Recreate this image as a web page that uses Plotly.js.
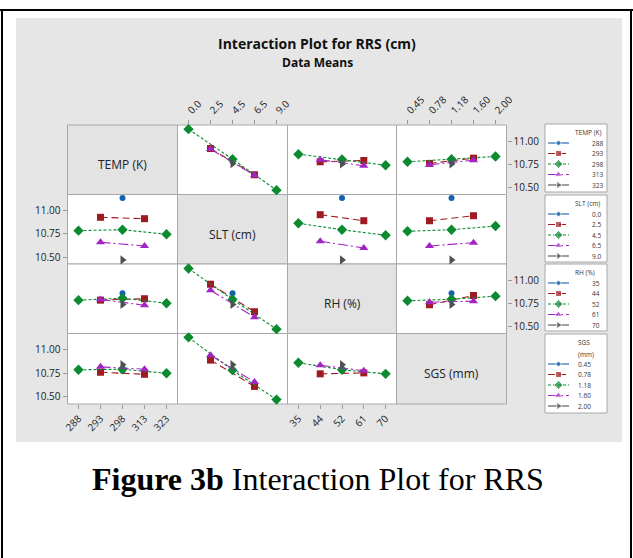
<!DOCTYPE html>
<html>
<head>
<meta charset="utf-8">
<script src="https://cdn.plot.ly/plotly-3.0.1.min.js"></script>
<style>html,body{margin:0;padding:0;background:#fff;}#chart{width:633px;height:558px;}</style>
</head>
<body>
<div id="chart"></div>
<script>
// ---------- DATA ----------
const factorNames = ['TEMP (K)', 'SLT (cm)', 'RH (%)', 'SGS (mm)'];
const levelsTEMP = ['288', '293', '298', '313', '323'];
const levelsSLT  = ['0.0', '2.5', '4.5', '6.5', '9.0'];
const levelsRH   = ['35', '44', '52', '61', '70'];
const levelsSGS  = ['0.45', '0.78', '1.18', '1.60', '2.00'];
const N = null;

// lines = TEMP levels
const TEMP_x_SLT = [[N,N,10.785,N,N],[N,10.921,N,10.638,N],[11.130,N,10.806,N,10.472],[N,10.915,N,10.632,N],[N,N,10.757,N,N]];
const TEMP_x_RH  = [[N,N,10.785,N,N],[N,10.778,N,10.792,N],[10.860,N,10.803,N,10.741],[N,10.800,N,10.735,N],[N,N,10.755,N,N]];
const TEMP_x_SGS = [[N,N,10.785,N,N],[N,10.760,N,10.817,N],[10.778,N,10.806,N,10.835],[N,10.746,N,10.795,N],[N,N,10.755,N,N]];
// lines = SLT levels
const SLT_x_TEMP = [[N,N,11.137,N,N],[N,10.929,N,10.914,N],[10.785,N,10.795,N,10.746],[N,10.659,N,10.620,N],[N,N,10.469,N,N]];
const SLT_x_RH   = [[N,N,11.137,N,N],[N,10.957,N,10.892,N],[10.864,N,10.795,N,10.735],[N,10.670,N,10.598,N],[N,N,10.469,N,N]];
const SLT_x_SGS  = [[N,N,11.137,N,N],[N,10.892,N,10.946,N],[10.778,N,10.795,N,10.835],[N,10.620,N,10.655,N],[N,N,10.469,N,N]];
// lines = RH levels
const RH_x_TEMP  = [[N,N,10.860,N,N],[N,10.785,N,10.800,N],[10.785,N,10.806,N,10.752],[N,10.792,N,10.730,N],[N,N,10.738,N,N]];
const RH_x_SLT   = [[N,N,10.860,N,N],[N,10.957,N,10.660,N],[11.126,N,10.792,N,10.472],[N,10.892,N,10.600,N],[N,N,10.738,N,N]];
const RH_x_SGS   = [[N,N,10.860,N,N],[N,10.735,N,10.835,N],[10.778,N,10.795,N,10.828],[N,10.763,N,10.774,N],[N,N,10.738,N,N]];
// lines = SGS levels
const SGS_x_TEMP = [[N,N,10.778,N,N],[N,10.763,N,10.741,N],[10.789,N,10.795,N,10.752],[N,10.820,N,10.795,N],[N,N,10.843,N,N]];
const SGS_x_SLT  = [[N,N,10.778,N,N],[N,10.892,N,10.612,N],[11.134,N,10.785,N,10.472],[N,10.943,N,10.660,N],[N,N,10.843,N,N]];
const SGS_x_RH   = [[N,N,10.778,N,N],[N,10.746,N,10.756,N],[10.864,N,10.789,N,10.746],[N,10.838,N,10.778,N],[N,N,10.843,N,N]];

const yTickVals = [10.5, 10.75, 11.0];
const yTickText = ['10.50', '10.75', '11.00'];

// ---------- BUILD ----------
const W = 633, H = 558;
const levels = [levelsTEMP, levelsSLT, levelsRH, levelsSGS];
const table = [
  [null, TEMP_x_SLT, TEMP_x_RH, TEMP_x_SGS],
  [SLT_x_TEMP, null, SLT_x_RH, SLT_x_SGS],
  [RH_x_TEMP, RH_x_SLT, null, RH_x_SGS],
  [SGS_x_TEMP, SGS_x_SLT, SGS_x_RH, null]
];
const colors  = ['#1560B0', '#9E1B22', '#0B8A30', '#A224C4', '#505050'];
const symbols = ['circle', 'square', 'diamond', 'triangle-up', 'triangle-right'];
const sizes   = [6, 7, 8, 8, 8];
const dashes  = ['solid', '7px,4px', '3px,2px', '10px,3px,2px,3px', 'solid'];

const colX = [67.5, 177.5, 287.5, 396.5, 506.5];
const rowY = [125, 194.5, 264, 333.5, 404];
const yRange = [10.425, 11.175];
const tickFont = {family: 'Open Sans, sans-serif', size: 10, color: '#222'};

const traces = [];
const layout = {
  width: W, height: H, margin: {l: 0, r: 0, t: 0, b: 0},
  paper_bgcolor: '#ffffff', plot_bgcolor: 'rgba(0,0,0,0)',
  showlegend: false, shapes: [], annotations: []
};

// background & frame
layout.shapes.push({type: 'rect', xref: 'paper', yref: 'paper', x0: 16/W, x1: 622/W, y0: 1-442/H, y1: 1-18/H,
  fillcolor: '#E6E6E6', line: {width: 0}, layer: 'below'});

let ax = 0;
for (let r = 0; r < 4; r++) {
  for (let c = 0; c < 4; c++) {
    layout.shapes.push({type: 'rect', xref: 'paper', yref: 'paper',
      x0: colX[c]/W, x1: colX[c+1]/W, y0: 1-rowY[r+1]/H, y1: 1-rowY[r]/H,
      fillcolor: r === c ? '#E3E3E3' : '#FFFFFF', line: {color: '#A8A8A8', width: 1}, layer: 'below'});
    if (r === c) {
      layout.annotations.push({xref: 'paper', yref: 'paper', x: (colX[c]+colX[c+1])/2/W,
        y: 1-((rowY[r]+rowY[r+1])/2+5)/H, text: factorNames[r], showarrow: false,
        font: {family: 'Open Sans, sans-serif', size: 12, color: '#222'}, xanchor: 'center', yanchor: 'middle'});
      continue;
    }
    ax++;
    const id = ax === 1 ? '' : String(ax);
    const xTop = (r === 0 && (c === 1 || c === 3));
    const xBot = (r === 3 && (c === 0 || c === 2));
    const yLeft = (c === 0 && (r === 1 || r === 3));
    const yRight = (c === 3 && (r === 0 || r === 2));
    layout['xaxis' + id] = {
      domain: [colX[c]/W, colX[c+1]/W], anchor: 'y' + id, type: 'category',
      categoryorder: 'array', categoryarray: levels[c], range: [-0.5, 4.5],
      showgrid: false, zeroline: false, showline: false, fixedrange: true,
      side: xTop ? 'top' : 'bottom',
      ticks: (xTop || xBot) ? 'outside' : '', ticklen: 4, tickcolor: '#9A9A9A', tickwidth: 1,
      showticklabels: (xTop || xBot), tickangle: -45, tickfont: tickFont
    };
    layout['yaxis' + id] = {
      domain: [1-rowY[r+1]/H, 1-rowY[r]/H], anchor: 'x' + id, range: yRange,
      showgrid: false, zeroline: false, showline: false, fixedrange: true,
      side: yRight ? 'right' : 'left',
      tickvals: yTickVals, ticktext: yTickText,
      ticks: (yLeft || yRight) ? 'outside' : '', ticklen: 4, tickcolor: '#9A9A9A', tickwidth: 1,
      showticklabels: (yLeft || yRight), tickfont: tickFont
    };
    const m = table[r][c];
    for (let k = 0; k < 5; k++) {
      traces.push({
        type: 'scatter', mode: 'lines+markers', x: levels[c], y: m[k],
        xaxis: 'x' + id, yaxis: 'y' + id, connectgaps: true, cliponaxis: false,
        line: {color: colors[k], width: 1.1, dash: dashes[k]},
        marker: {symbol: symbols[k], size: sizes[k], color: colors[k]},
        hoverinfo: 'skip'
      });
    }
  }
}

// legends (one box per row factor) on a pixel overlay axis
ax++;
const lid = String(ax);
layout['xaxis' + lid] = {domain: [0, 1], range: [0, W], visible: false, fixedrange: true, anchor: 'y' + lid};
layout['yaxis' + lid] = {domain: [0, 1], range: [H, 0], visible: false, fixedrange: true, anchor: 'x' + lid};
const legBoxes = [[545, 124, 607, 192], [545, 195, 607, 262], [545, 264, 607, 331], [545, 334, 607, 413]];
const legTitles = [['TEMP (K)'], ['SLT (cm)'], ['RH (%)'], ['SGS', '(mm)']];
const legFont = {family: 'Open Sans, sans-serif', size: 6.5, color: '#333'};
for (let r = 0; r < 4; r++) {
  const b = legBoxes[r];
  layout.shapes.push({type: 'rect', xref: 'paper', yref: 'paper', x0: b[0]/W, x1: b[2]/W, y0: 1-b[3]/H, y1: 1-b[1]/H,
    fillcolor: '#FFFFFF', line: {color: '#A8A8A8', width: 1}, layer: 'below'});
  const tl = legTitles[r];
  tl.forEach((t, i) => {
    layout.annotations.push({xref: 'x' + lid, yref: 'y' + lid, x: r === 3 ? 576 : 573, y: b[1] + 8 + i * 12,
      text: t, showarrow: false, font: legFont, xanchor: 'left', yanchor: 'middle'});
  });
  const first = b[1] + (tl.length > 1 ? 30 : 19);
  for (let k = 0; k < 5; k++) {
    const yy = first + k * 10.5;
    traces.push({
      type: 'scatter', mode: 'lines+markers', x: [548, 558.5, 569], y: [yy, yy, yy],
      xaxis: 'x' + lid, yaxis: 'y' + lid, cliponaxis: false,
      line: {color: colors[k], width: 1.1, dash: k === 4 || k === 0 ? 'solid' : dashes[k]},
      marker: {symbol: symbols[k], size: [0, sizes[k] - 1, 0], color: colors[k]},
      hoverinfo: 'skip'
    });
    layout.annotations.push({xref: 'x' + lid, yref: 'y' + lid, x: r === 3 ? 576 : 590, y: yy,
      text: levels[r][k], showarrow: false, font: legFont, xanchor: 'left', yanchor: 'middle'});
  }
}

// titles
layout.annotations.push({xref: 'paper', yref: 'paper', x: 317/W, y: 1-43/H, text: 'Interaction Plot for RRS (cm)',
  showarrow: false, xanchor: 'center', yanchor: 'middle',
  font: {family: 'Open Sans, sans-serif', size: 14, color: '#111', weight: 'bold'}});
layout.annotations.push({xref: 'paper', yref: 'paper', x: 317/W, y: 1-62/H, text: 'Data Means',
  showarrow: false, xanchor: 'center', yanchor: 'middle',
  font: {family: 'Open Sans, sans-serif', size: 12, color: '#111', weight: 'bold'}});
// caption
layout.annotations.push({xref: 'paper', yref: 'paper', x: 318/W, y: 1-479/H,
  text: '<b>Figure 3b</b> Interaction Plot for RRS', showarrow: false, xanchor: 'center', yanchor: 'middle',
  font: {family: 'Liberation Serif, Times New Roman, serif', size: 32, color: '#000'}});

// outer frame lines
layout.shapes.push({type: 'line', xref: 'paper', yref: 'paper', x0: 0, x1: 1, y0: 1-10/H, y1: 1-10/H, line: {color: '#000', width: 2}});
layout.shapes.push({type: 'line', xref: 'paper', yref: 'paper', x0: 2/W, x1: 2/W, y0: 0, y1: 1-10/H, line: {color: '#000', width: 2}});
layout.shapes.push({type: 'line', xref: 'paper', yref: 'paper', x0: 631/W, x1: 631/W, y0: 0, y1: 1-10/H, line: {color: '#000', width: 2}});

Plotly.newPlot('chart', traces, layout, {staticPlot: true, displayModeBar: false});
</script>
</body>
</html>
